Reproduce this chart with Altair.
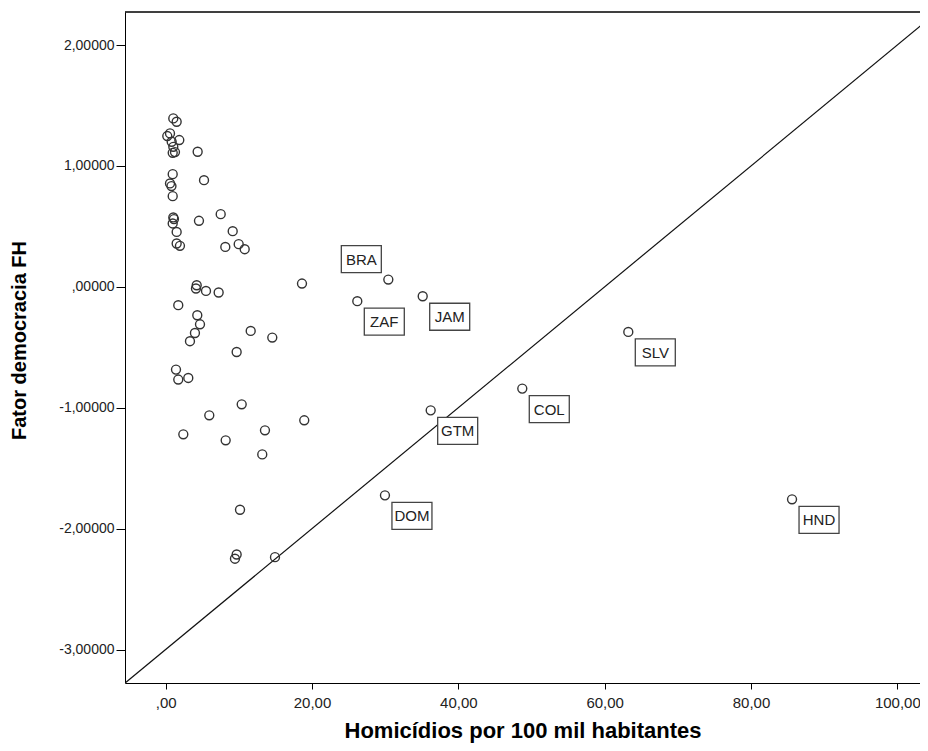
import altair as alt
import pandas as pd

# ---- data ----
homicides = [1.04, 1.50, 0.59, 0.22, 1.86, 0.82, 1.04, 0.96, 1.27, 4.37,
             0.96, 0.59, 0.79, 0.96, 5.24, 1.04, 0.96, 1.13, 4.55, 7.52,
             1.50, 9.16, 1.50, 1.95, 8.15, 9.98, 10.80, 4.24, 4.14, 5.51,
             7.24, 18.63, 1.72, 4.32, 4.69, 4.00, 3.32, 11.62, 14.57, 9.70,
             1.41, 1.72, 3.09, 10.39, 5.96, 2.41, 8.20, 13.57, 18.94, 13.20,
             10.16, 9.70, 9.47, 14.94,
             30.43, 26.19, 35.13, 36.22, 63.23, 48.74, 29.97, 85.61]
democracy = [1.393, 1.365, 1.269, 1.247, 1.214, 1.200, 1.158, 1.108, 1.114, 1.117,
             0.932, 0.855, 0.833, 0.750, 0.882, 0.574, 0.524, 0.560, 0.546, 0.601,
             0.454, 0.460, 0.358, 0.339, 0.330, 0.353, 0.311, 0.013, -0.014, -0.034,
             -0.047, 0.027, -0.152, -0.235, -0.310, -0.382, -0.450, -0.365, -0.420, -0.539,
             -0.685, -0.767, -0.754, -0.972, -1.063, -1.220, -1.270, -1.187, -1.104, -1.386,
             -1.844, -2.214, -2.249, -2.236,
             0.060, -0.119, -0.078, -1.022, -0.373, -0.842, -1.725, -1.758]
country = [""] * 54 + ["BRA", "ZAF", "JAM", "GTM", "SLV", "COL", "DOM", "HND"]

# reference line end points
ref_x = [-5.56, 105.5]
ref_y = [-3.278, 2.275]

x_ticks = [0, 20, 40, 60, 80, 100]
y_ticks = [-3, -2, -1, 0, 1, 2]
x_domain = [-5.56, 103.1]
y_domain = [-3.277, 2.273]

df = pd.DataFrame({"x": homicides, "y": democracy, "code": country})
ref_df = pd.DataFrame({"x": ref_x, "y": ref_y})

W, H = 795, 671
FONT = "Liberation Sans"
TITLE_FONT = "Liberation Sans"

xscale = alt.Scale(domain=x_domain, nice=False, zero=False)
yscale = alt.Scale(domain=y_domain, nice=False, zero=False)

x_axis = alt.Axis(
    values=x_ticks, grid=False,
    labelExpr="datum.value == 0 ? ',00' : replace(format(datum.value, '.2f'), '.', ',')",
    title="Homicídios por 100 mil habitantes",
    domainColor="black", tickColor="black", tickSize=6, labelPadding=6,
    labelFont=FONT, labelFontSize=15, labelColor="#222",
    titleFont=TITLE_FONT, titleFontSize=22, titleFontWeight="bold", titleColor="black",
    titlePadding=10,
)
y_axis = alt.Axis(
    values=y_ticks, grid=False,
    labelExpr="(datum.value < 0 ? '-' : '') + (datum.value == 0 ? ',00000' : replace(format(abs(datum.value), '.5f'), '.', ','))",
    title="Fator democracia FH",
    domainColor="black", tickColor="black", tickSize=9, labelPadding=2,
    labelFont=FONT, labelFontSize=14, labelColor="#222",
    titleFont=TITLE_FONT, titleFontSize=20, titleFontWeight="bold", titleColor="black",
    titleX=-106, titleY=328, titleAlign="center", titleBaseline="middle", titleAngle=270,
)

base_x = alt.X("x:Q", scale=xscale, axis=x_axis)
base_y = alt.Y("y:Q", scale=yscale, axis=y_axis)

ref_line = alt.Chart(ref_df).mark_line(color="#111", strokeWidth=1.2, clip=True).encode(
    x=base_x, y=base_y
)

points = alt.Chart(df).mark_point(
    shape="circle", filled=False, size=80, color="#333", strokeWidth=1.4, opacity=1
).encode(x=alt.X("x:Q", scale=xscale), y=alt.Y("y:Q", scale=yscale))

lab = alt.Chart(df).transform_filter("datum.code != '' && datum.code != 'BRA'")
bra = alt.Chart(df).transform_filter("datum.code == 'BRA'")

boxes = lab.mark_rect(
    fill="white", stroke="#444", strokeWidth=1.3,
    xOffset=7, x2Offset=47, yOffset=7, y2Offset=34
).encode(x=alt.X("x:Q", scale=xscale), x2="x:Q", y=alt.Y("y:Q", scale=yscale), y2="y:Q")
texts = lab.mark_text(
    dx=27, dy=21, align="center", baseline="middle", font=FONT, fontSize=15, color="#222"
).encode(x=alt.X("x:Q", scale=xscale), y=alt.Y("y:Q", scale=yscale), text="code:N")

bra_box = bra.mark_rect(
    fill="white", stroke="#444", strokeWidth=1.3,
    xOffset=-47, x2Offset=-7, yOffset=-34, y2Offset=-7
).encode(x=alt.X("x:Q", scale=xscale), x2="x:Q", y=alt.Y("y:Q", scale=yscale), y2="y:Q")
bra_text = bra.mark_text(
    dx=-27, dy=-20, align="center", baseline="middle", font=FONT, fontSize=15, color="#222"
).encode(x=alt.X("x:Q", scale=xscale), y=alt.Y("y:Q", scale=yscale), text="code:N")

top_rule = alt.Chart(ref_df).mark_rule(color="black", strokeWidth=1).encode(
    x=alt.value(0), x2=alt.value(W), y=alt.value(0)
)

chart = alt.layer(
    ref_line, points, boxes, texts, bra_box, bra_text, top_rule
).properties(
    width=W, height=H,
    autosize=alt.AutoSizeParams(type="none"),
    padding={"left": 117, "top": 4, "right": 0, "bottom": 60},
    background="white",
).configure_view(stroke=None)

chart.save("out.html", embed_options={"renderer": "svg", "actions": False})
